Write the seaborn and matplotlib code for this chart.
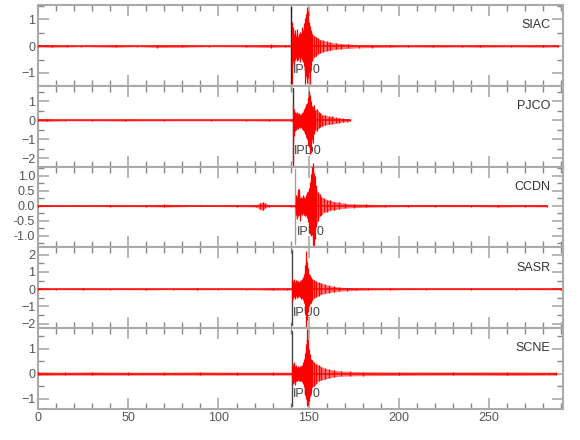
import numpy as np
import matplotlib
matplotlib.use("Agg")
import matplotlib.pyplot as plt
from matplotlib.ticker import MultipleLocator, FormatStrFormatter
import seaborn as sns

# --- waveform envelopes (time in s, peak up / peak down) ---
siac_t = [0, 8, 16, 24, 43, 55, 66, 80, 95, 115, 129, 137, 140.3,
          140.6, 141.0, 141.5, 142.0, 142.5, 143.0, 143.5, 144.0, 144.5, 145.0,
          145.5, 146.0, 146.5, 147.0, 147.5, 148.0, 148.5, 149.0, 149.5, 150.0,
          150.5, 151.0, 151.5, 152.0, 153.0, 154.0, 155.0, 156.5, 158, 160, 162,
          165, 168, 172, 178, 185, 195, 205, 219, 235, 245, 262, 280, 288]
siac_hi = [0.03, 0.05, 0.03, 0.02, 0.05, 0.02, 0.06, 0.05, 0.02, 0.03, 0.07, 0.03, 0.04,
           0.90, 0.55, 0.70, 0.45, 0.60, 0.40, 0.65, 0.35, 0.45, 0.55,
           0.40, 0.50, 0.70, 0.60, 0.85, 1.05, 1.20, 1.46, 1.30, 0.90,
           0.75, 0.60, 0.55, 0.45, 0.40, 0.35, 0.30, 0.25, 0.22, 0.18, 0.15,
           0.12, 0.10, 0.08, 0.06, 0.05, 0.04, 0.03, 0.05, 0.03, 0.05, 0.03, 0.05, 0.03]
siac_lo = [-0.03, -0.04, -0.03, -0.02, -0.04, -0.02, -0.05, -0.04, -0.02, -0.03, -0.05, -0.03, -0.04,
           -1.42, -0.80, -0.55, -0.65, -0.50, -0.45, -0.55, -0.50, -0.40, -0.60,
           -0.45, -0.35, -0.50, -0.60, -0.75, -1.40, -1.10, -1.36, -1.20, -0.95,
           -1.40, -0.70, -0.50, -0.55, -0.40, -0.38, -0.30, -0.25, -0.20, -0.18, -0.15,
           -0.12, -0.10, -0.08, -0.06, -0.05, -0.04, -0.03, -0.04, -0.03, -0.04, -0.03, -0.04, -0.03]

pjco_t = [0, 5, 15, 30, 48, 70, 96, 115, 128, 140, 141.0,
          141.3, 141.7, 142.2, 142.7, 143.2, 143.7, 144.2, 144.7, 145.2, 145.7,
          146.2, 146.7, 147.2, 147.7, 148.2, 148.7, 149.2, 149.7, 150.2, 150.7,
          151.2, 151.7, 152.2, 152.7, 153.2, 153.7, 154.5, 155.5, 156.5, 157.5,
          159, 161, 163, 165, 167, 169, 171, 173]
pjco_hi = [0.04, 0.06, 0.03, 0.03, 0.05, 0.03, 0.03, 0.03, 0.05, 0.04, 0.05,
           0.90, 0.60, 0.45, 0.40, 0.35, 0.45, 0.35, 0.40, 0.30, 0.35,
           0.40, 0.45, 0.60, 0.55, 0.70, 0.85, 0.90, 1.20, 1.55, 1.35,
           1.00, 0.75, 0.70, 0.80, 0.60, 0.55, 0.60, 0.45, 0.40, 0.30,
           0.28, 0.22, 0.20, 0.15, 0.13, 0.10, 0.08, 0.05]
pjco_lo = [-0.05, -0.06, -0.03, -0.03, -0.04, -0.03, -0.03, -0.03, -0.04, -0.04, -0.05,
           -2.50, -0.80, -0.55, -0.45, -0.50, -0.40, -0.45, -0.35, -0.40, -0.35,
           -0.45, -0.50, -0.55, -0.70, -0.60, -0.90, -1.00, -1.30, -1.40, -1.75,
           -1.60, -1.00, -1.20, -0.60, -0.70, -0.50, -0.55, -0.40, -0.35, -0.30,
           -0.25, -0.22, -0.18, -0.15, -0.12, -0.10, -0.07, -0.05]

ccdn_t = [0, 20, 40, 60, 70, 90, 110, 121, 123, 124.5, 126, 128, 140, 142.4,
          142.8, 143.3, 143.8, 144.3, 144.8, 145.3, 145.8, 146.3, 146.8, 147.3,
          147.8, 148.3, 148.8, 149.3, 149.8, 150.3, 150.8, 151.3, 151.8, 152.3,
          152.8, 153.3, 153.8, 154.3, 155.0, 156, 157, 158.5, 160, 162, 164,
          167, 170, 175, 182, 192, 205, 220, 240, 255, 270, 282]
ccdn_hi = [0.03, 0.02, 0.03, 0.02, 0.05, 0.02, 0.03, 0.04, 0.10, 0.12, 0.08, 0.03, 0.03, 0.04,
           0.35, 0.30, 0.55, 0.30, 0.55, 0.25, 0.30, 0.25, 0.35, 0.30,
           0.25, 0.35, 0.40, 0.45, 0.50, 0.60, 0.80, 1.05, 1.30, 1.42,
           1.10, 1.00, 0.70, 0.55, 0.45, 0.40, 0.30, 0.25, 0.20, 0.18, 0.14,
           0.12, 0.08, 0.06, 0.05, 0.04, 0.03, 0.04, 0.03, 0.04, 0.03, 0.04]
ccdn_lo = [-0.03, -0.02, -0.03, -0.03, -0.04, -0.02, -0.03, -0.04, -0.12, -0.15, -0.06, -0.03, -0.03, -0.04,
           -0.30, -0.45, -0.25, -0.35, -0.30, -0.50, -0.28, -0.30, -0.25, -0.30,
           -0.35, -0.30, -0.35, -0.40, -0.55, -0.70, -0.90, -1.00, -0.95, -1.30,
           -1.38, -1.10, -0.70, -0.60, -0.50, -0.35, -0.30, -0.22, -0.20, -0.15, -0.14,
           -0.10, -0.08, -0.06, -0.05, -0.04, -0.03, -0.03, -0.03, -0.04, -0.03, -0.04]

sasr_t = [0, 10, 25, 40, 60, 75, 88, 100, 115, 130, 138, 140.6,
          141.0, 141.5, 142.0, 142.5, 143.0, 143.5, 144.0, 144.5, 145.0, 145.5,
          146.0, 146.5, 147.0, 147.5, 148.0, 148.5, 149.0, 149.5, 150.0, 150.5,
          151.0, 152, 153, 154, 155.5, 157, 159, 161, 164, 167, 171, 176, 183,
          195, 215, 240, 265, 290]
sasr_hi = [0.04, 0.03, 0.05, 0.03, 0.04, 0.03, 0.05, 0.03, 0.03, 0.06, 0.06, 0.05,
           0.55, 0.45, 0.60, 0.40, 0.55, 0.45, 0.50, 0.40, 0.50, 0.55,
           0.45, 0.60, 0.70, 0.90, 1.40, 2.20, 1.60, 1.20, 0.90, 0.80,
           0.70, 0.60, 0.55, 0.45, 0.40, 0.35, 0.28, 0.22, 0.16, 0.12, 0.09, 0.07, 0.05,
           0.04, 0.03, 0.04, 0.03, 0.04]
sasr_lo = [-0.04, -0.03, -0.04, -0.03, -0.04, -0.03, -0.04, -0.03, -0.03, -0.06, -0.05, -0.05,
           -0.70, -0.50, -0.45, -0.55, -0.40, -0.50, -0.45, -0.40, -0.45, -0.50,
           -0.55, -0.50, -0.65, -0.80, -1.20, -2.40, -1.80, -1.30, -1.00, -0.85,
           -0.80, -0.65, -0.50, -0.45, -0.38, -0.30, -0.25, -0.20, -0.15, -0.12, -0.09, -0.07, -0.05,
           -0.04, -0.03, -0.03, -0.03, -0.04]

scne_t = [0, 15, 30, 50, 70, 90, 110, 130, 140.6,
          141.0, 141.5, 142.0, 142.5, 143.0, 143.5, 144.0, 144.5, 145.0, 145.5,
          146.0, 146.5, 147.0, 147.5, 148.0, 148.5, 149.0, 149.5, 150.0, 150.5,
          151.0, 152, 153, 154, 155.5, 157, 159, 161, 164, 168, 173, 180,
          200, 230, 260, 287]
scne_hi = [0.07, 0.06, 0.07, 0.06, 0.06, 0.07, 0.06, 0.06, 0.06,
           0.35, 0.40, 0.45, 0.30, 0.35, 0.25, 0.30, 0.25, 0.30, 0.25,
           0.30, 0.35, 0.45, 0.60, 0.85, 1.20, 1.78, 1.40, 1.00, 0.80,
           0.60, 0.55, 0.45, 0.40, 0.35, 0.28, 0.22, 0.18, 0.14, 0.11, 0.09, 0.08,
           0.07, 0.07, 0.07, 0.06]
scne_lo = [-0.07, -0.06, -0.06, -0.06, -0.06, -0.06, -0.06, -0.06, -0.06,
           -0.30, -0.40, -0.35, -0.45, -0.30, -0.30, -0.25, -0.30, -0.28, -0.25,
           -0.30, -0.35, -0.40, -0.55, -0.80, -1.00, -1.32, -1.25, -1.10, -0.90,
           -0.70, -0.55, -0.50, -0.40, -0.30, -0.25, -0.22, -0.18, -0.13, -0.10, -0.09, -0.08,
           -0.07, -0.06, -0.07, -0.06]

stations = ["SIAC", "PJCO", "CCDN", "SASR", "SCNE"]
pick_labels = ["IPU0", "IPD0", "IPU0", "IPU0", "IPU0"]
pick_times = [140.4, 141.1, 142.5, 140.7, 140.6]
pick_colors = ["#222222", "#333333", "#a0a0a0", "#444444", "#444444"]
ylims = [(-1.48, 1.54), (-2.43, 1.81), (-1.38, 1.30), (-2.26, 2.42), (-1.42, 1.83)]
ymajor = [1, 1, 0.5, 1, 1]
yminor = [0.5, 0.5, 0.25, 0.5, 0.5]

traces = [(siac_t, siac_hi, siac_lo), (pjco_t, pjco_hi, pjco_lo),
          (ccdn_t, ccdn_hi, ccdn_lo), (sasr_t, sasr_hi, sasr_lo),
          (scne_t, scne_hi, scne_lo)]

sns.set_style("ticks", {"axes.edgecolor": "#aaaaaa", "xtick.color": "#999999",
                        "ytick.color": "#999999", "xtick.direction": "in",
                        "ytick.direction": "in"})
plt.rcParams["font.family"] = ["Liberation Sans", "DejaVu Sans"]

fig, axes = plt.subplots(5, 1, figsize=(5.8, 4.4), dpi=100, sharex=True)
fig.subplots_adjust(left=0.0655, right=0.971, top=0.9886, bottom=0.0705, hspace=0)

for i, ax in enumerate(axes):
    t, hi, lo = traces[i]
    # envelope band, then spikes at each read peak, then the trace baseline
    ax.fill_between(t, lo, hi, color="red", alpha=0.55, lw=0, zorder=3)
    ax.vlines(t, lo, hi, color="red", lw=0.9, clip_on=False, zorder=3)
    sns.lineplot(x=[t[0], t[-1]], y=[0, 0], ax=ax, color="red", lw=1.1,
                 estimator=None, zorder=3)

    ax.axvline(pick_times[i], ymin=0.04, ymax=0.97, color=pick_colors[i], lw=1,
               zorder=2)
    ax.text(pick_times[i] + 0.8, ylims[i][0] + 0.19 * (ylims[i][1] - ylims[i][0]),
            pick_labels[i], fontsize=9, color="#444444", va="center", ha="left",
            zorder=1)
    ax.text(0.975, 0.75, stations[i], transform=ax.transAxes, ha="right",
            va="center", fontsize=9, color="#333333")

    ax.set_xlim(0, 291)
    ax.set_ylim(*ylims[i])
    ax.xaxis.set_major_locator(MultipleLocator(50))
    ax.xaxis.set_minor_locator(MultipleLocator(10))
    ax.yaxis.set_major_locator(MultipleLocator(ymajor[i]))
    ax.yaxis.set_minor_locator(MultipleLocator(yminor[i]))
    if i == 2:
        ax.yaxis.set_major_formatter(FormatStrFormatter("%.1f"))
    ax.tick_params(which="both", top=True, right=True, labelsize=9,
                   labelcolor="#555555", pad=2)
    ax.tick_params(which="major", length=8, width=1.3, color="#b0b0b0")
    ax.tick_params(which="minor", length=4, width=1, color="#888888")
    for sp in ax.spines.values():
        sp.set_color("#aaaaaa")
        sp.set_linewidth(1.5)
    ax.set_xlabel("")
    ax.set_ylabel("")

fig.savefig("out.png", dpi=100)
